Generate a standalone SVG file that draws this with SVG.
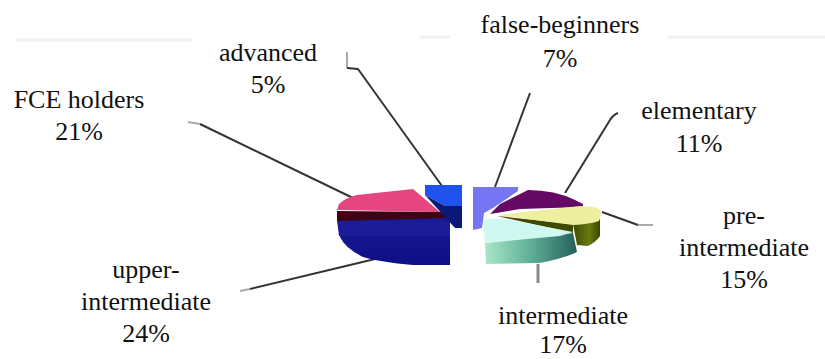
<svg xmlns="http://www.w3.org/2000/svg" width="825" height="359" viewBox="0 0 825 359">
<style>
  .lbl { font-family: "Liberation Serif", "Times New Roman", serif; font-size: 26px; fill: #111; text-anchor: middle; }
  .lead { fill: none; stroke: #333; stroke-width: 2; stroke-linejoin: round; }
  .tip { fill: none; stroke: #aaa; stroke-width: 2; }
  .faint { stroke: #f2f2f2; stroke-width: 3; }
</style>
<defs>
  <linearGradient id="teal" x1="0" y1="0" x2="1" y2="0">
    <stop offset="0" stop-color="#a8e8c8"/>
    <stop offset="0.5" stop-color="#5fae98"/>
    <stop offset="1" stop-color="#25605a"/>
  </linearGradient>
  <linearGradient id="olive" x1="0" y1="0" x2="1" y2="0">
    <stop offset="0" stop-color="#3e4a00"/>
    <stop offset="0.6" stop-color="#6a7a12"/>
    <stop offset="1" stop-color="#3a4400"/>
  </linearGradient>
  <linearGradient id="blueSide" x1="0" y1="0" x2="0" y2="1">
    <stop offset="0" stop-color="#1a1a92"/>
    <stop offset="1" stop-color="#0e0e86"/>
  </linearGradient>
</defs>
<rect width="825" height="359" fill="#fff"/>
<line class="faint" x1="15" y1="40" x2="193" y2="40"/>
<line class="faint" x1="420" y1="37" x2="450" y2="37"/>
<line class="faint" x1="668" y1="37" x2="825" y2="37"/>

<g id="connectors">
  <path class="lead" d="M200,124 L353,198"/>
  <path class="tip" d="M188,122 L200,124"/>
  <path class="tip" d="M347,52 L347,68"/>
  <path class="lead" d="M347,68 L358,69 L442,186"/>
  <path class="lead" d="M530,93 L495,187"/>
  <path class="lead" d="M618,113 Q613,115 610,120 L565,193"/>
  <path class="lead" d="M602,212 L638,225"/>
  <path class="tip" d="M638,225 L653,225"/>
  <path d="M538,264 L538,283" stroke="#888" stroke-width="3" fill="none"/>
  <path class="lead" d="M250,289 L375,259"/>
  <path class="tip" d="M240,291 L250,289"/>
</g>

<g id="upper-intermediate">
  <path d="M337,218 L450,218 L450,265 L413,265 Q380,262 363,257 Q345,248 340,237 Z" fill="url(#blueSide)"/>
  <path d="M337,220 L450,222 L450,236 L339,236 Z" fill="#1c1c98"/>
  <text class="lbl" x="146" y="278">upper-</text>
  <text class="lbl" x="146" y="310">intermediate</text>
  <text class="lbl" x="146" y="342">24%</text>
</g>

<g id="fce-holders">
  <path d="M337,210 L339,204 Q345,198 357,195 L413,189 L440,212 Z" fill="#e64680"/>
  <path d="M337,211 L441,212 L447,218 L337,221 Z" fill="#3e0414"/>
  <text class="lbl" x="79" y="108">FCE holders</text>
  <text class="lbl" x="79" y="140">21%</text>
</g>

<g id="advanced">
  <path d="M425,185 L462,185 L462,206 L445,206 L425,195 Z" fill="#1f52ee"/>
  <path d="M425,195 L445,206 L462,206 L462,228 L455,228 Z" fill="#0a1878"/>
  <text class="lbl" x="268" y="61">advanced</text>
  <text class="lbl" x="268" y="93">5%</text>
</g>

<g id="false-beginners">
  <path d="M473,187 L518,187 L518,191 L493,208 L484,213 L482,228 L473,230 Z" fill="#7676f4"/>
  <text class="lbl" x="560" y="33">false-beginners</text>
  <text class="lbl" x="560" y="67">7%</text>
</g>

<g id="elementary">
  <path d="M490,214 L500,204 L528,190 Q555,190 575,200 L583,204 L583,207 L520,209 Z" fill="#640a64"/>
  <text class="lbl" x="699" y="119">elementary</text>
  <text class="lbl" x="699" y="152">11%</text>
</g>

<g id="pre-intermediate">
  <path d="M573,224 L600,219 L600,236 Q596,242 588,246 L577,245 Z" fill="url(#olive)"/>
  <path d="M497,216 L573,224 L573,233 Z" fill="#3e4a00"/>
  <path d="M497,215 L580,206 L595,207 Q602,210 601,215 L599,221 Q590,224 573,225 Z" fill="#eef0a0"/>
  <text class="lbl" x="744" y="224">pre-</text>
  <text class="lbl" x="744" y="256">intermediate</text>
  <text class="lbl" x="744" y="288">15%</text>
</g>

<g id="intermediate">
  <path d="M485,243 L573,233 L577,252 Q565,258 540,263 L486,264 Z" fill="url(#teal)"/>
  <path d="M483,220 Q495,217 510,220 L573,232 L560,236 L485,243 Z" fill="#cff8f0"/>
  <text class="lbl" x="563" y="324">intermediate</text>
  <text class="lbl" x="563" y="353">17%</text>
</g>
</svg>
